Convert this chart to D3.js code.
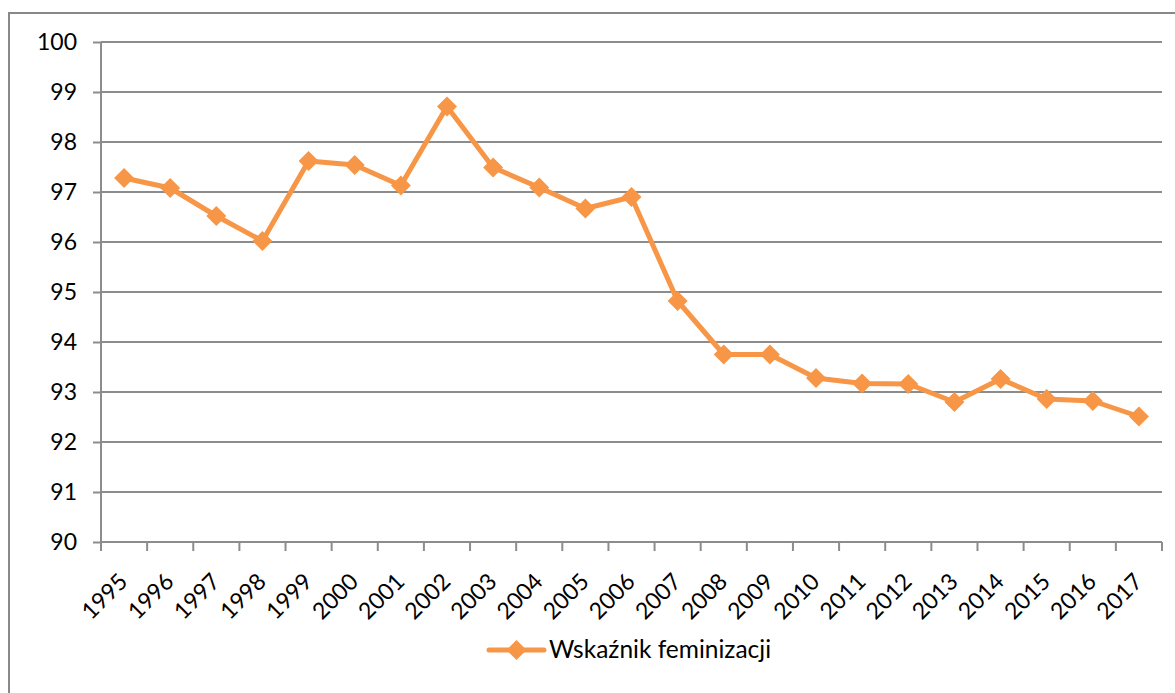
<!DOCTYPE html>
<html>
<head>
<meta charset="utf-8">
<script src="https://cdn.jsdelivr.net/npm/d3@7"></script>
<style>
  body { margin: 0; background: #fff; }
  svg { display: block; font-family: Lato, "Open Sans", sans-serif; }
</style>
</head>
<body>
<svg id="chart" width="1175" height="693"></svg>
<script>
// data
var years = ["1995","1996","1997","1998","1999","2000","2001","2002","2003","2004","2005","2006",
             "2007","2008","2009","2010","2011","2012","2013","2014","2015","2016","2017"];
var feminizacja = [97.28, 97.08, 96.52, 96.02, 97.62, 97.54, 97.13, 98.71, 97.49, 97.09, 96.67, 96.90,
                   94.82, 93.75, 93.75, 93.28, 93.17, 93.16, 92.80, 93.26, 92.86, 92.82, 92.51];
var yTicks = [90, 91, 92, 93, 94, 95, 96, 97, 98, 99, 100];
var seriesName = "Wskaźnik feminizacji";

var svg = d3.select("#chart");
var orange = "#f79646",
    gridColor = "#8c8c8c";

var plotLeft = 101, plotRight = 1162, plotTop = 42, plotBottom = 542;

// outer chart border
svg.append("rect")
  .attr("x", 9).attr("y", 13)
  .attr("width", 1300).attr("height", 900)
  .attr("fill", "none").attr("stroke", "#888").attr("stroke-width", 2);

var x = d3.scaleBand().domain(years).range([plotLeft, plotRight]);
var y = d3.scaleLinear().domain([90, 100]).range([plotBottom, plotTop]);

// gridlines
svg.append("g")
  .selectAll("line")
  .data(yTicks.slice(1))
  .enter().append("line")
  .attr("x1", plotLeft).attr("x2", plotRight)
  .attr("y1", function(d) { return y(d); })
  .attr("y2", function(d) { return y(d); })
  .attr("stroke", gridColor).attr("stroke-width", 2);

// y axis
var yAxis = svg.append("g")
  .attr("transform", "translate(" + plotLeft + ",0)")
  .call(d3.axisLeft(y).tickValues(yTicks).tickSize(8).tickPadding(16).tickFormat(d3.format("d")));
yAxis.selectAll("line, path").attr("stroke", gridColor).attr("stroke-width", 2);
yAxis.select(".domain").attr("d", "M0," + plotTop + "V" + plotBottom);
yAxis.selectAll("text").attr("font-size", 23).attr("fill", "#000").attr("font-family", "Lato");

// x axis: ticks on band edges
var xAxis = svg.append("g").attr("transform", "translate(0," + plotBottom + ")");
xAxis.append("line")
  .attr("x1", plotLeft).attr("x2", plotRight)
  .attr("stroke", gridColor).attr("stroke-width", 2);
var edges = years.map(function(d) { return x(d); }).concat([plotRight]);
xAxis.selectAll(".tk")
  .data(edges)
  .enter().append("line")
  .attr("class", "tk")
  .attr("x1", function(d) { return d; }).attr("x2", function(d) { return d; })
  .attr("y1", 0).attr("y2", 9)
  .attr("stroke", gridColor).attr("stroke-width", 2);

xAxis.selectAll(".lbl")
  .data(years)
  .enter().append("text")
  .attr("class", "lbl")
  .attr("text-anchor", "end")
  .attr("font-size", 23)
  .attr("transform", function(d) {
    return "translate(" + (x(d) + x.bandwidth() / 2 + 5) + ",41) rotate(-45)";
  })
  .text(function(d) { return d; });

// series line
var line = d3.line()
  .x(function(d, i) { return x(years[i]) + x.bandwidth() / 2; })
  .y(function(d) { return y(d); });

svg.append("path")
  .datum(feminizacja)
  .attr("d", line)
  .attr("fill", "none")
  .attr("stroke", orange)
  .attr("stroke-width", 5)
  .attr("stroke-linejoin", "round");

var diamond = d3.symbol().type(d3.symbolSquare).size(200);
svg.append("g")
  .selectAll("path")
  .data(feminizacja)
  .enter().append("path")
  .attr("d", diamond)
  .attr("transform", function(d, i) {
    return "translate(" + (x(years[i]) + x.bandwidth() / 2) + "," + y(d) + ") rotate(45)";
  })
  .attr("fill", orange);

// legend
var legend = svg.append("g").attr("transform", "translate(489,650)");
legend.append("line")
  .attr("x1", 0).attr("x2", 55)
  .attr("stroke", orange).attr("stroke-width", 5).attr("stroke-linecap", "round");
legend.append("path")
  .attr("d", diamond)
  .attr("transform", "translate(27.5,0) rotate(45)")
  .attr("fill", orange);
legend.append("text")
  .attr("x", 60).attr("y", 8)
  .attr("font-size", 24.5)
  .text(seriesName);
</script>
</body>
</html>
